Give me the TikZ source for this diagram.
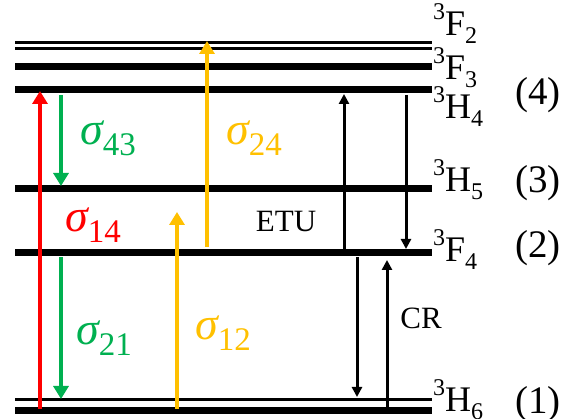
\documentclass[tikz,border=0pt]{standalone}
\usepackage{fontspec}
\setmainfont{Liberation Serif}
\usetikzlibrary{arrows.meta}
\definecolor{cred}{RGB}{255,0,0}
\definecolor{cgreen}{RGB}{0,176,80}
\definecolor{cyel}{RGB}{255,192,0}
\newcommand\levlab[3]{\raisebox{16pt}{\fontsize{24}{24}\selectfont #1}#2\raisebox{-8pt}{\fontsize{24}{24}\selectfont #3}}
\newcommand\sigl[1]{{\fontsize{46}{46}\selectfont\itshape σ}\raisebox{-11pt}{\fontsize{33}{33}\selectfont #1}}
\begin{document}
\begin{tikzpicture}[x=1pt,y=-1pt,
 level/.style={line width=7pt},
 thinlevel/.style={line width=3pt},
 carrow/.style={line width=4pt,-{Triangle[width=15pt,length=13pt]}},
 karrow/.style={line width=3pt,-{Triangle[width=10pt,length=10pt]}},
 lvl/.style={anchor=base west,font=\fontsize{36}{36}\selectfont,inner sep=0},
 idx/.style={anchor=base west,font=\fontsize{39}{39}\selectfont,inner sep=0},
 sig/.style={anchor=base west,inner sep=0},
 lab/.style={font=\fontsize{31}{31}\selectfont,inner sep=0}]
\useasboundingbox (0,0) rectangle (563,419);
% levels
\coordinate (F2aL) at (15,43); \coordinate (F2aR) at (432,43);
\coordinate (F2bL) at (15,49); \coordinate (F2bR) at (432,49);
\coordinate (F3L) at (15,67); \coordinate (F3R) at (432,67);
\coordinate (H4L) at (15,90); \coordinate (H4R) at (432,90);
\coordinate (H5L) at (15,189); \coordinate (H5R) at (432,189);
\coordinate (F4L) at (15,253); \coordinate (F4R) at (432,253);
\coordinate (H6aL) at (15,400); \coordinate (H6aR) at (432,400);
\coordinate (H6bL) at (15,410.5); \coordinate (H6bR) at (432,410.5);
\draw[thinlevel] (F2aL) -- (F2aR);
\draw[thinlevel] (F2bL) -- (F2bR);
\draw[level] (F3L) -- (F3R);
\draw[level] (H4L) -- (H4R);
\draw[level] (H5L) -- (H5R);
\draw[level] (F4L) -- (F4R);
\draw[thinlevel] (H6aL) -- (H6aR);
\draw[level] (H6bL) -- (H6bR);
% level labels
\node[lvl] (lF2) at (433,36) {\levlab{3}{F}{2}};
\node[lvl] (lF3) at (433,80) {\levlab{3}{F}{3}};
\node[lvl] (lH4) at (433,119) {\levlab{3}{H}{4}};
\node[lvl] (lH5) at (433,192) {\levlab{3}{H}{5}};
\node[lvl] (lF4) at (433,262) {\levlab{3}{F}{4}};
\node[lvl] (lH6) at (433,412) {\levlab{3}{H}{6}};
\node[idx] (n4) at (515,105) {(4)};
\node[idx] (n3) at (515,193) {(3)};
\node[idx] (n2) at (515,258) {(2)};
\node[idx] (n1) at (515,414) {(1)};
% arrow end points
\coordinate (r0) at (40,409); \coordinate (r1) at (40,91);
\coordinate (g0) at (61,95); \coordinate (g1) at (61,186);
\coordinate (g2) at (61,257); \coordinate (g3) at (61,399);
\coordinate (y0) at (207,247); \coordinate (y1) at (207,41);
\coordinate (y2) at (177,409); \coordinate (y3) at (177,212);
\coordinate (e0) at (344,256); \coordinate (e1) at (344,94);
\coordinate (d0) at (406,95); \coordinate (d1) at (406,249);
\coordinate (c0) at (357,257); \coordinate (c1) at (357,397);
\coordinate (c2) at (387,409); \coordinate (c3) at (387,260);
\draw[carrow,cred] (r0) -- (r1);
\draw[carrow,cgreen] (g0) -- (g1);
\draw[carrow,cgreen] (g2) -- (g3);
\draw[carrow,cyel] (y0) -- (y1);
\draw[carrow,cyel] (y2) -- (y3);
\draw[karrow] (e0) -- (e1);
\draw[karrow] (d0) -- (d1);
\draw[karrow] (c0) -- (c1);
\draw[karrow] (c2) -- (c3);
% labels
\node[sig,text=cgreen] (s43) at (80,145) {\sigl{43}};
\node[sig,text=cyel] (s24) at (226,145) {\sigl{24}};
\node[sig,text=cred] (s14) at (65,232) {\sigl{14}};
\node[sig,text=cgreen] (s21) at (76,345) {\sigl{21}};
\node[sig,text=cyel] (s12) at (195,340) {\sigl{12}};
\node[lab] (etu) at (286,222) {ETU};
\node[lab] (cr) at (421,318) {CR};
\end{tikzpicture}
\end{document}
